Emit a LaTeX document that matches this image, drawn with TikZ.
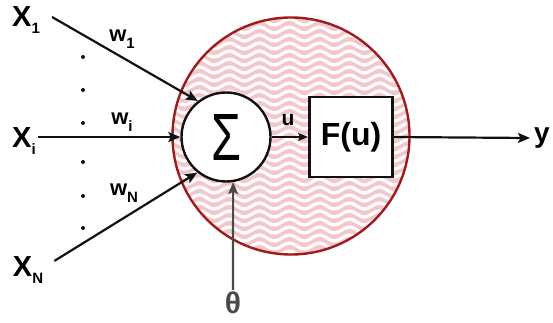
\documentclass[tikz,border=0pt]{standalone}
\usepackage{fontspec}
\setmainfont{Liberation Sans}
\usetikzlibrary{arrows.meta,decorations.pathmorphing}
\definecolor{ink}{HTML}{111111}
\definecolor{cellred}{HTML}{9E1B1E}
\definecolor{cellpink}{HTML}{F3C8CC}
\definecolor{biasgray}{HTML}{4A4A4A}
\newcommand{\lowidx}[1]{\raisebox{-7pt}{\fontsize{15}{15}\selectfont #1}}
\tikzset{
  >={Stealth[length=12pt,width=10pt,inset=2.5pt]},
  cell/.style={circle,minimum size=237pt,inner sep=0pt,draw=cellred,line width=2.4pt},
  sumnode/.style={circle,minimum size=89pt,inner sep=0pt,draw=ink,line width=2.4pt,fill=white},
  fbox/.style={draw=ink,line width=2.8pt,fill=white,minimum width=83pt,minimum height=80pt,inner sep=0pt,font=\bfseries\fontsize{32}{32}\selectfont},
  inlabel/.style={inner sep=2pt,font=\bfseries\fontsize{29}{29}\selectfont},
  wlabel/.style={inner sep=1pt,font=\bfseries\fontsize{22}{22}\selectfont},
  flow/.style={->,line width=2.2pt,color=ink},
  dot/.style={circle,fill=ink,inner sep=0pt,minimum size=4pt},
  wave/.style={white,line width=3.2pt,decorate,decoration={snake,amplitude=3pt,segment length=30pt}},
}
\begin{document}
\begin{tikzpicture}[x=1pt,y=-1pt]
  \useasboundingbox (0,0) rectangle (553,323);
  % wavy pink body of the neuron
  \begin{scope}
    \clip (291,136) circle (118pt);
    \fill[cellpink] (170,15) rectangle (412,258);
    \foreach \yy in {14,22,...,262}
      \draw[wave] (160,\yy) -- (420,\yy);
  \end{scope}
  \node[cell] (cell) at (291,136) {};
  \node[sumnode] (sum) at (226,137) {\resizebox{30pt}{46pt}{Σ}};
  \node[fbox] (fu) at (351,137) {F(u)};
  % inputs
  \node[inlabel] (x1) at (26,20) {X\lowidx{1}};
  \node[inlabel] (xi) at (24,141) {X\lowidx{i}};
  \node[inlabel] (xn) at (28,270) {X\lowidx{N}};
  \node[wlabel] (w1) at (122,39) {w\lowidx{1}};
  \node[wlabel] (wi) at (122,122) {w\lowidx{i}};
  \node[wlabel] (wn) at (124,193) {w\lowidx{N}};
  \foreach \yy [count=\k] in {57,90,123,162,196,228}
    \node[dot] (dot\k) at (83,\yy) {};
  \draw[flow] ([xshift=10pt,yshift=3pt]x1.east) -- (sum.128);
  \draw[flow] (xi.east |- sum.west) -- (sum.west);
  \draw[flow] ([xshift=9pt,yshift=9pt]xn.east) -- (sum.231);
  % sum to activation to output
  \node[font=\bfseries\fontsize{21}{21}\selectfont] (u) at (288,120) {u};
  \draw[flow,line width=1.4pt,>={Stealth[length=10pt,width=8pt,inset=2pt]}] (sum.east) -- (fu.west);
  \node[inlabel,font=\bfseries\fontsize{28}{28}\selectfont,anchor=west,inner sep=4pt] (y) at (530,138) {y};
  \draw[flow] (fu.east) -- (y.west);
  % bias
  \node[inlabel,font=\bfseries\fontsize{30}{30}\selectfont,text=biasgray] (theta) at (233,303) {θ};
  \draw[flow,color=biasgray] (theta.north) -- (sum.-81);
\end{tikzpicture}
\end{document}
